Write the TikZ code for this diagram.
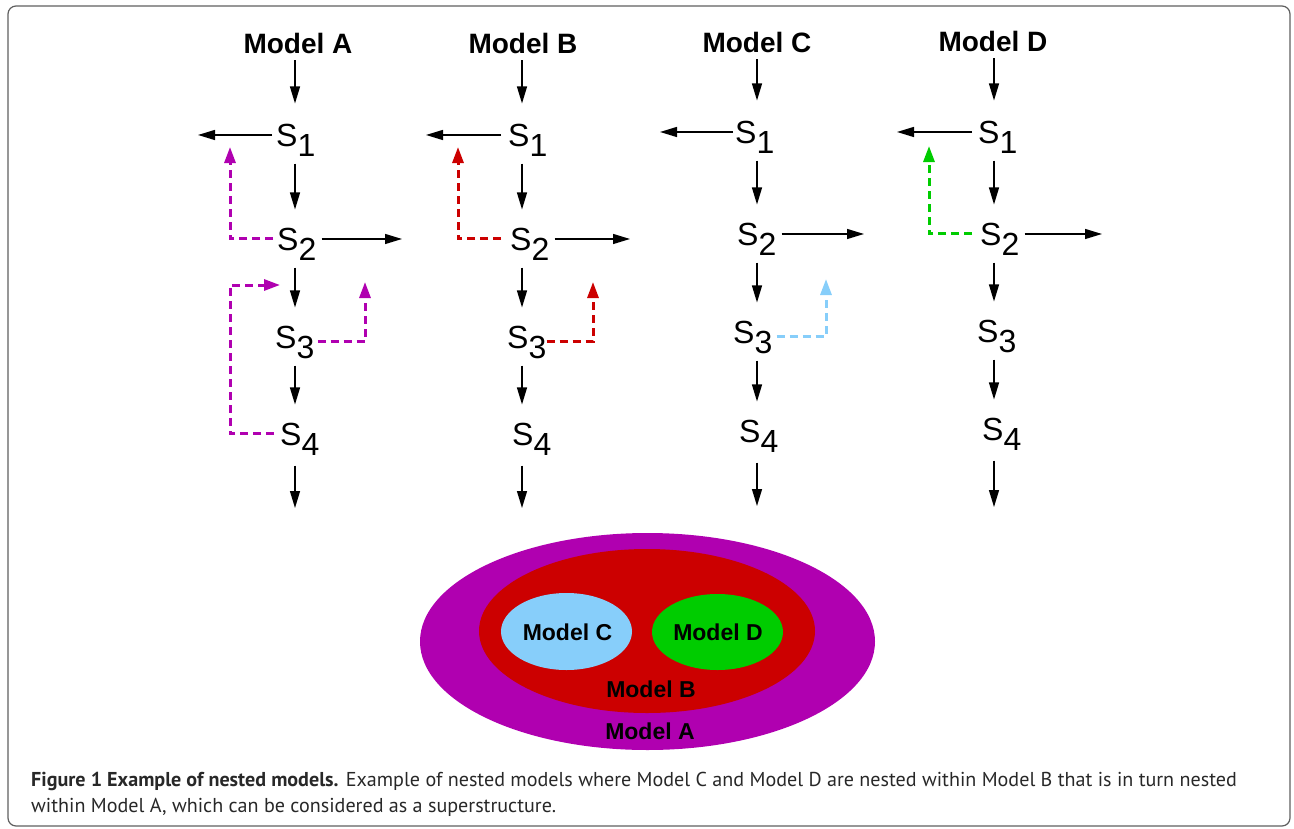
\documentclass[tikz,border=0pt]{standalone}
\usepackage{fontspec}
\setmainfont{Liberation Sans}
\newfontfamily\capfont{PT Sans}
\usetikzlibrary{arrows.meta}
\definecolor{magA}{RGB}{176,0,176}
\definecolor{redB}{RGB}{204,0,0}
\definecolor{blueC}{RGB}{135,206,250}
\definecolor{greenD}{RGB}{0,204,0}
\definecolor{framegray}{RGB}{95,95,95}
\definecolor{capgray}{RGB}{40,40,40}
\newcommand{\Sl}[1]{S\raisebox{-10pt}[0pt][0pt]{#1}}
\begin{document}
\begin{tikzpicture}[x=1pt,y=-1pt,
  title/.style={font=\fontsize{28}{28}\selectfont\bfseries, inner sep=0pt, anchor=base},
  st/.style={font=\fontsize{32}{32}\selectfont, inner sep=0pt, anchor=base west},
  arr/.style={line width=1.3pt, -{Triangle[length=17pt,width=10pt]}},
  vin/.style={arr, shorten <=7pt, shorten >=20pt},
  vss/.style={arr, shorten <=17pt, shorten >=18pt},
  vout/.style={arr, shorten <=20pt},
  hs/.style={arr, shorten <=5pt},
  dsh/.style={line width=3pt, dash pattern=on 8pt off 5pt, -{Triangle[length=16pt,width=11pt]}},
  ell/.style={font=\fontsize{23}{23}\selectfont\bfseries, inner sep=0pt},
  captext/.style={font=\capfont\fontsize{20.1}{20.1}\selectfont, text=capgray, inner sep=0pt, anchor=base west}
]
\useasboundingbox (0,0) rectangle (1294,828);
\draw[framegray, line width=1.2pt, rounded corners=8pt] (8,6) rectangle (1290,826);

% column x coordinates
\coordinate (xa) at (295,0);
\coordinate (xb) at (522,0);
\coordinate (xc) at (757,0);
\coordinate (xd) at (994,0);

% titles
\node[title] (ta) at (298,53) {Model A};
\node[title] (tb) at (523,53) {Model B};
\node[title] (tc) at (757,52) {Model C};
\node[title] (td) at (993,51) {Model D};

% states
\node[st] (s1a) at (276,146) {\Sl{1}};
\node[st] (s2a) at (277,250) {\Sl{2}};
\node[st] (s3a) at (275,348) {\Sl{3}};
\node[st] (s4a) at (280,445) {\Sl{4}};
\node[st] (s1b) at (508,146) {\Sl{1}};
\node[st] (s2b) at (510,250) {\Sl{2}};
\node[st] (s3b) at (507,348) {\Sl{3}};
\node[st] (s4b) at (512,445) {\Sl{4}};
\node[st] (s1c) at (735,143) {\Sl{1}};
\node[st] (s2c) at (737,245) {\Sl{2}};
\node[st] (s3c) at (733,343) {\Sl{3}};
\node[st] (s4c) at (739,442) {\Sl{4}};
\node[st] (s1d) at (978,143) {\Sl{1}};
\node[st] (s2d) at (980,245) {\Sl{2}};
\node[st] (s3d) at (977,342) {\Sl{3}};
\node[st] (s4d) at (982,440) {\Sl{4}};

% vertical chains
\foreach \c in {a,b,c,d}{
  \draw[vin] (t\c.south -| x\c) -- (s1\c.north -| x\c);
  \draw[vss] (s1\c.south -| x\c) -- (s2\c.north -| x\c);
  \draw[vss] (s2\c.south -| x\c) -- (s3\c.north -| x\c);
  \draw[vss] (s3\c.south -| x\c) -- (s4\c.north -| x\c);
}
\coordinate (ea) at (295,508);
\coordinate (eb) at (522,508);
\coordinate (ec) at (757,506);
\coordinate (ed) at (994,507);
\draw[vout] (s4a.south -| xa) -- (ea);
\draw[vout] (s4b.south -| xb) -- (eb);
\draw[vout] (s4c.south -| xc) -- (ec);
\draw[vout] (s4d.south -| xd) -- (ed);

% horizontal outflows
\coordinate (la) at (198,0);
\coordinate (lb) at (426,0);
\coordinate (lc) at (660,0);
\coordinate (ld) at (897,0);
\draw[arr, shorten <=4pt] (s1a.west) -- (s1a.west -| la);
\draw[arr, shorten <=7pt] (s1b.west) -- (s1b.west -| lb);
\draw[arr, shorten <=2pt] (s1c.west) -- (s1c.west -| lc);
\draw[arr, shorten <=6pt] (s1d.west) -- (s1d.west -| ld);
\coordinate (ra) at (402,0);
\coordinate (rb) at (630,0);
\coordinate (rc) at (864,0);
\coordinate (rd) at (1102,0);
\draw[hs] (s2a.east) -- (s2a.east -| ra);
\draw[hs] (s2b.east) -- (s2b.east -| rb);
\draw[hs] (s2c.east) -- (s2c.east -| rc);
\draw[hs] (s2d.east) -- (s2d.east -| rd);

% dashed feedback paths
\coordinate (ka) at (230,0);
\coordinate (pa1) at (230,147);
\coordinate (pa2) at (365,282);
\coordinate (pa3) at (280,285);
\draw[dsh, draw=magA, shorten <=4pt] (s2a.west) -| (pa1);
\draw[dsh, draw=magA, shorten <=3pt] ([yshift=-4.5pt]s3a.east) -| (pa2);
\draw[dsh, draw=magA, shorten <=6pt] (s4a.west) -- (s4a.west -| ka) |- (pa3);

\coordinate (pb1) at (458,147);
\coordinate (pb2) at (593,282);
\draw[dsh, draw=redB, shorten <=9pt] (s2b.west) -| (pb1);
\draw[dsh, draw=redB, shorten <=0pt] ([yshift=-4.5pt]s3b.east) -| (pb2);

\coordinate (pc2) at (826,279);
\draw[dsh, draw=blueC, shorten <=4pt] ([yshift=-4.5pt]s3c.east) -| (pc2);

\coordinate (pd1) at (929,146);
\draw[dsh, draw=greenD, shorten <=8pt] (s2d.west) -| (pd1);

% nested ellipses
\fill[magA] (647.5,641.5) ellipse [x radius=227.5pt, y radius=108.5pt];
\fill[redB] (647,631) ellipse [x radius=168pt, y radius=82pt];
\fill[blueC] (566.5,631.5) ellipse [x radius=65.5pt, y radius=38.5pt];
\fill[greenD] (717.5,632) ellipse [x radius=65.5pt, y radius=38pt];
\node[ell] (elC) at (567.5,632) {Model C};
\node[ell] (elD) at (718,632) {Model D};
\node[ell] (elB) at (651,689) {Model B};
\node[ell] (elA) at (650,731) {Model A};

% caption
\node[captext] (cap1) at (31,786) {\textbf{Figure 1 Example of nested models.} Example of nested models where Model C and Model D are nested within Model B that is in turn nested};
\node[captext] (cap2) at (31,812) {within Model A, which can be considered as a superstructure.};
\end{tikzpicture}
\end{document}
